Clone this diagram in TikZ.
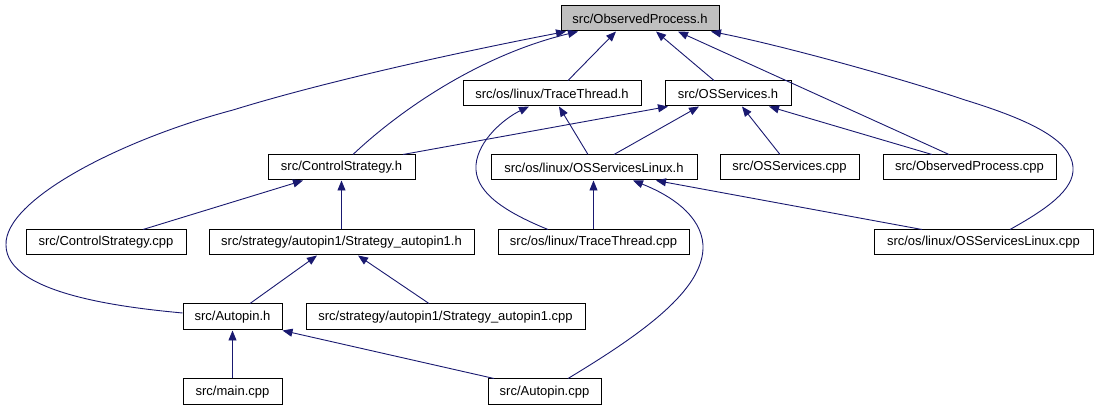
\documentclass[tikz,border=0pt]{standalone}
\usepackage{fontspec}
\setmainfont{Liberation Sans}
\usetikzlibrary{arrows.meta}
\definecolor{edgeblue}{HTML}{191970}
\definecolor{rootgray}{HTML}{BFBFBF}
\begin{document}
\begin{tikzpicture}[x=1pt,y=-1pt,
  box/.style={draw=black,line width=1pt,fill=white,minimum height=25pt,inner sep=0pt,
    font=\fontsize{13}{15}\selectfont,text=black},
  rootbox/.style={box,fill=rootgray},
  edge/.style={draw=edgeblue,line width=0.9pt,-{Triangle[length=10pt,width=8pt]}}]
\useasboundingbox (0,0) rectangle (1098,411);
% nodes
\node[rootbox,minimum width=158pt] (op) at (640,18.5) {src/ObservedProcess.h};
\node[box,minimum width=178pt] (tth) at (552,93.5) {src/os/linux/TraceThread.h};
\node[box,minimum width=126pt] (oss) at (728,93.5) {src/OSServices.h};
\node[box,minimum width=147pt] (cs) at (341.5,167.5) {src/ControlStrategy.h};
\node[box,minimum width=206pt] (osl) at (594,167.5) {src/os/linux/OSServicesLinux.h};
\node[box,minimum width=139pt] (osscpp) at (789.5,167.5) {src/OSServices.cpp};
\node[box,minimum width=173pt] (opcpp) at (969.5,167.5) {src/ObservedProcess.cpp};
\node[box,minimum width=160pt] (cscpp) at (106,242.5) {src/ControlStrategy.cpp};
\node[box,minimum width=265pt] (s1h) at (341.5,242.5) {src/strategy/autopin1/Strategy\_autopin1.h};
\node[box,minimum width=191pt] (ttcpp) at (593.5,242.5) {src/os/linux/TraceThread.cpp};
\node[box,minimum width=219pt] (oslcpp) at (983.5,242.5) {src/os/linux/OSServicesLinux.cpp};
\node[box,minimum width=99pt,minimum height=26pt] (aph) at (232.5,317) {src/Autopin.h};
\node[box,minimum width=279pt,minimum height=26pt] (s1cpp) at (445.5,317) {src/strategy/autopin1/Strategy\_autopin1.cpp};
\node[box,minimum width=99pt,minimum height=26pt] (main) at (232.5,392) {src/main.cpp};
\node[box,minimum width=113pt,minimum height=26pt] (apcpp) at (544.5,392) {src/Autopin.cpp};
% edges
\draw[edge] ([xshift=16pt]tth.north) -- ([xshift=-24pt]op.south);
\draw[edge] ([xshift=-14pt]oss.north) -- ([xshift=16pt]op.south);
\draw[edge] ([xshift=-20.5pt]opcpp.north) -- ([xshift=38pt]op.south);
\draw[edge] ([xshift=26.5pt]oslcpp.north) .. controls (1045,210) and (1075,190) .. (1073,167)
  .. controls (1071,140) and (1030,120) .. (965,100)
  .. controls (900,78) and (780,45) .. ([xshift=71pt]op.south);
\draw[edge] ([xshift=11.5pt]cs.north) .. controls (400,110) and (480,55) .. ([xshift=-62pt]op.south);
\draw[edge] ([yshift=4pt]aph.west) .. controls (130,308) and (6,295) .. (6,245)
  .. controls (4,200) and (120,140) .. (233,110)
  .. controls (330,80) and (470,50) .. ([xshift=-74pt]op.south);
\draw[edge] ([xshift=-45.5pt]ttcpp.north) .. controls (500,210) and (474,190) .. (476,165)
  .. controls (478,140) and (505,118) .. ([xshift=-23pt]tth.south);
\draw[edge] ([xshift=-6pt]osl.north) -- ([xshift=7pt]tth.south);
\draw[edge] ([xshift=61.5pt]cs.north) -- ([xshift=-60pt]oss.south);
\draw[edge] ([xshift=20pt]osl.north) -- ([xshift=-29pt]oss.south);
\draw[edge] ([xshift=-9.5pt]osscpp.north) -- ([xshift=14pt]oss.south);
\draw[edge] ([xshift=-37.5pt]opcpp.north) -- ([xshift=41pt]oss.south);
\draw[edge] ([xshift=37pt]cscpp.north) -- ([xshift=-38.5pt]cs.south);
\draw[edge] (s1h.north) -- (cs.south);
\draw[edge] (ttcpp.north) -- ([xshift=-0.5pt]osl.south);
\draw[edge] ([xshift=23.5pt]apcpp.north) .. controls (640,335) and (705,290) .. (703,245)
  .. controls (701,215) and (670,195) .. ([xshift=39pt]osl.south);
\draw[edge] ([xshift=-61.5pt]oslcpp.north) -- ([xshift=62pt]osl.south);
\draw[edge] ([xshift=17.5pt]aph.north) -- ([xshift=-24.5pt]s1h.south);
\draw[edge] ([xshift=-16.5pt]s1cpp.north) -- ([xshift=16.5pt]s1h.south);
\draw[edge] (main.north) -- (aph.south);
\draw[edge] ([xshift=-50.5pt]apcpp.north) -- (aph.south east);
\end{tikzpicture}
\end{document}
